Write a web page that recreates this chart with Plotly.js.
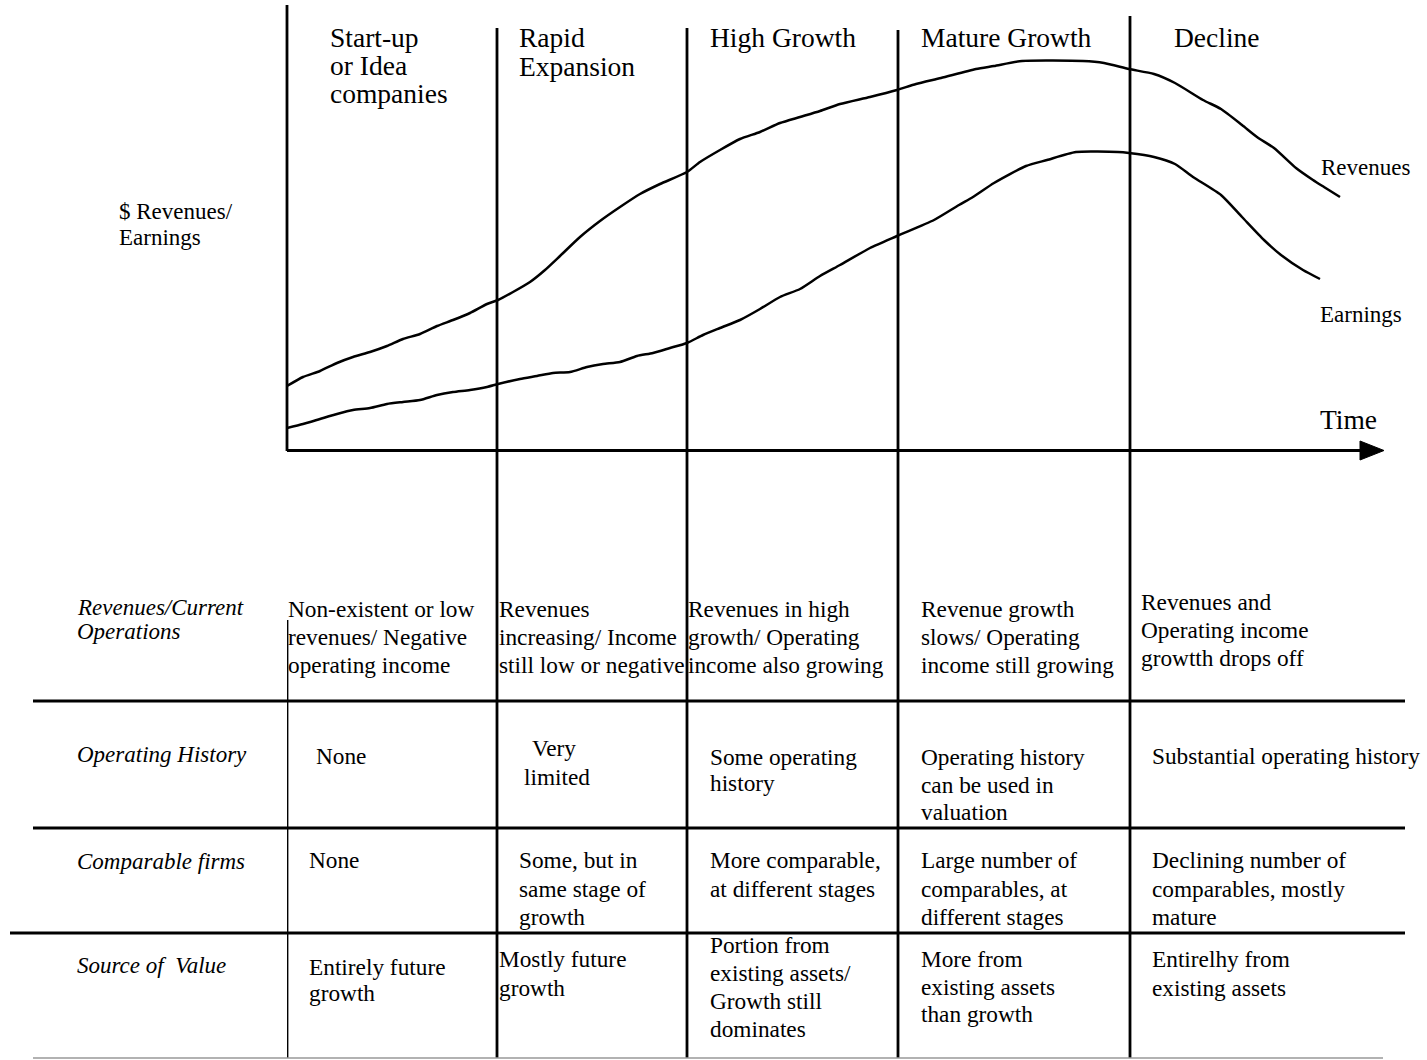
<!DOCTYPE html>
<html>
<head>
<meta charset="utf-8">
<script src="https://cdn.plot.ly/plotly-3.0.1.min.js"></script>
<style>html,body{margin:0;padding:0;background:#fff;}#chart{width:1427px;height:1060px;}</style>
</head>
<body>
<div id="chart"></div>
<script>
// ---------------- DATA ----------------
const revTime = [0.0,1.6,3.3,5.0,6.6,8.3,10.0,11.6,13.3,15.0,16.6,18.3,20.0,21.1,22.6,24.3,25.8,27.3,29.3,31.3,33.3,35.3,37.3,40.0,41.3,43.3,45.3,47.3,49.3,51.3,53.3,55.3,58.3,61.0,62.9,65.4,68.9,70.7,73.5,79.6,81.7,84.2,86.7,88.8,91.6,93.4,95.5,97.0,98.7,100.9,102.6,103.7,105.3];
const revenues = [16.25,18.5,20.0,22.0,23.5,24.75,26.25,28.0,29.25,31.25,32.75,34.5,36.75,37.75,39.75,42.25,45.25,48.75,53.5,57.5,61.0,64.25,66.75,69.75,72.25,75.25,78.0,79.75,82.0,83.5,85.0,86.75,88.5,90.25,91.75,93.25,95.5,96.25,97.5,97.5,97.0,95.5,94.25,92.0,87.75,85.5,81.5,78.5,75.75,70.75,67.75,66.0,63.5];
const earnTime = [0.0,1.6,3.3,5.0,6.6,8.3,10.0,11.6,13.3,15.0,16.6,18.3,20.0,21.1,23.3,25.0,26.6,28.3,30.0,31.6,33.3,35.0,36.6,38.3,40.0,41.6,43.3,45.3,47.3,49.3,51.3,53.3,55.3,58.3,61.0,64.7,67.2,68.6,70.7,73.9,76.0,78.9,83.1,84.2,86.7,88.8,90.6,93.4,95.5,97.7,99.4,101.6,103.3];
const earnings = [5.75,6.75,8.0,9.25,10.25,10.75,11.75,12.25,12.75,14.0,14.75,15.25,16.0,16.75,18.0,18.75,19.5,19.75,21.0,21.75,22.25,23.75,24.5,25.75,27.0,29.0,30.75,32.75,35.5,38.5,40.5,43.75,46.5,50.75,53.75,57.75,61.5,63.5,67.0,71.25,72.75,74.75,74.75,74.5,73.5,71.75,68.5,64.0,58.5,52.75,49.0,45.25,43.0];
const stageStart = [0, 21.0, 40.0, 61.1, 84.3];
const stageNames = [["Start-up","or Idea","companies"],["Rapid","Expansion"],["High Growth"],["Mature Growth"],["Decline"]];
const yAxisLabel = ["$ Revenues/","Earnings"];
const seriesLabels = ["Revenues","Earnings"];
const xAxisLabel = "Time";
const rowLabels = [["Revenues/Current","Operations"],["Operating History"],["Comparable firms"],["Source of\u00A0 Value"]];
const rowRevenues = [["Non-existent or low","revenues/ Negative","operating income"],["Revenues","increasing/ Income","still low or negative"],["Revenues in high","growth/ Operating","income also growing"],["Revenue growth","slows/ Operating","income still growing"],["Revenues and","Operating income","growtth drops off"]];
const rowHistory = [["None"],["Very","limited"],["Some operating","history"],["Operating history","can be used in","valuation"],["Substantial operating history"]];
const rowComparables = [["None"],["Some, but in","same stage of","growth"],["More comparable,","at different stages"],["Large number of","comparables, at","different stages"],["Declining number of","comparables, mostly","mature"]];
const rowValue = [["Entirely future","growth"],["Mostly future","growth"],["Portion from","existing assets/","Growth still","dominates"],["More from","existing assets","than growth"],["Entirelhy from","existing assets"]];
const tableRows = [rowRevenues, rowHistory, rowComparables, rowValue];

// ---------------- LAYOUT HELPERS ----------------
const W = 1427, H = 1060;
const X = px => px / W;
const Y = py => 1 - py / H;
const FONT = '"Liberation Serif", "Times New Roman", Times, serif';

const stagePos = [{x:329,y:38,g:28},{x:518,y:38,g:28.5},{x:709,y:38},{x:920,y:38},{x:1173,y:38}];
const rowLabelPos = [{x:76,y:607,g:24},{x:76,y:754},{x:76,y:861},{x:76,y:965}];
const cellPos = [
  [{x:287,y:609,g:28},{x:498,y:609,g:28},{x:687,y:609,g:28},{x:920,y:609,g:28},{x:1140,y:602,g:28}],
  [{x:315,y:756},{x:[531,523],y:748,g:29},{x:709,y:757,g:26},{x:920,y:757,g:27.5},{x:1151,y:756}],
  [{x:308,y:860},{x:518,y:860,g:28.5},{x:709,y:860,g:29},{x:920,y:860,g:28.5},{x:1151,y:860,g:28.5}],
  [{x:308,y:967,g:26},{x:498,y:959,g:29},{x:709,y:945,g:28},{x:920,y:959,g:27.5},{x:1151,y:959,g:29}]
];
const stageLineTop = [5, 28, 28, 30, 16];

const annotations = [];
function addLines(lines, pos, size, italic) {
  lines.forEach((t, i) => {
    const xpx = Array.isArray(pos.x) ? pos.x[i] : pos.x;
    annotations.push({
      text: t, xref: 'paper', yref: 'paper', x: X(xpx), y: Y(pos.y + i * (pos.g || 28)),
      xanchor: 'left', yanchor: 'middle', showarrow: false, borderpad: 0,
      font: {family: FONT, size: size, color: '#000', style: italic ? 'italic' : 'normal'}
    });
  });
}
stageNames.forEach((s, i) => addLines(s, stagePos[i], 27.5, false));
addLines(yAxisLabel, {x:118, y:211, g:26}, 23, false);
addLines([seriesLabels[0]], {x:1320, y:167}, 23, false);
addLines([seriesLabels[1]], {x:1319, y:314}, 23, false);
addLines([xAxisLabel], {x:1319, y:419}, 27.5, false);
rowLabels.forEach((r, i) => addLines(r, rowLabelPos[i], 23, true));
tableRows.forEach((row, ri) => row.forEach((cell, ci) => addLines(cell, cellPos[ri][ci], 23.3, false)));

// ---------------- SHAPES ----------------
const shapes = [];
const blk = {color: '#000', width: 2.8};
// axes
shapes.push({type:'line', xref:'paper', yref:'paper', x0:X(287), x1:X(287), y0:Y(5), y1:Y(451), line:blk});
shapes.push({type:'line', xref:'paper', yref:'paper', x0:X(287), x1:X(1362), y0:Y(450.5), y1:Y(450.5), line:{color:'#000', width:3}});
shapes.push({type:'path', xref:'paper', yref:'paper', path:`M ${X(1360)} ${Y(441)} L ${X(1384)} ${Y(450.5)} L ${X(1360)} ${Y(460)} Z`, fillcolor:'#000', line:{color:'#000', width:1}});
// stage dividers
stageStart.forEach((t, i) => {
  if (i === 0) {
    shapes.push({type:'line', xref:'x', yref:'paper', x0:t, x1:t, y0:Y(620), y1:Y(1058), line:blk});
  } else {
    shapes.push({type:'line', xref:'x', yref:'paper', x0:t, x1:t, y0:Y(stageLineTop[i]), y1:Y(1058), line:blk});
  }
});
// table rules
[[701,33,1405],[828,33,1405],[933,10,1405]].forEach(r => {
  shapes.push({type:'line', xref:'paper', yref:'paper', x0:X(r[1]), x1:X(r[2]), y0:Y(r[0]), y1:Y(r[0]), line:{color:'#000', width:2.8}});
});
shapes.push({type:'line', xref:'paper', yref:'paper', x0:X(33), x1:X(1383), y0:Y(1058), y1:Y(1058), line:{color:'#999', width:1.5}});

// ---------------- TRACES ----------------
const traces = [
  {x: revTime, y: revenues, type: 'scatter', mode: 'lines', line: {color: '#000', width: 2.5, shape: 'spline', smoothing: 0.6}, hoverinfo: 'skip', showlegend: false, name: 'Revenues'},
  {x: earnTime, y: earnings, type: 'scatter', mode: 'lines', line: {color: '#000', width: 2.5, shape: 'spline', smoothing: 0.6}, hoverinfo: 'skip', showlegend: false, name: 'Earnings'}
];

const hiddenAxis = {showgrid:false, zeroline:false, showline:false, showticklabels:false, ticks:'', fixedrange:true};
const layout = {
  width: W, height: H, autosize: false,
  margin: {l:0, r:0, t:0, b:0, pad:0},
  paper_bgcolor: '#fff', plot_bgcolor: 'rgba(0,0,0,0)',
  showlegend: false,
  xaxis: Object.assign({domain: [X(287), X(1383)], range: [0, 109.6]}, hiddenAxis),
  yaxis: Object.assign({domain: [Y(451), Y(8)], range: [0, 110.75]}, hiddenAxis),
  shapes: shapes,
  annotations: annotations,
  font: {family: FONT, color: '#000'}
};
Plotly.newPlot('chart', traces, layout, {staticPlot: true, displayModeBar: false});
</script>
</body>
</html>
